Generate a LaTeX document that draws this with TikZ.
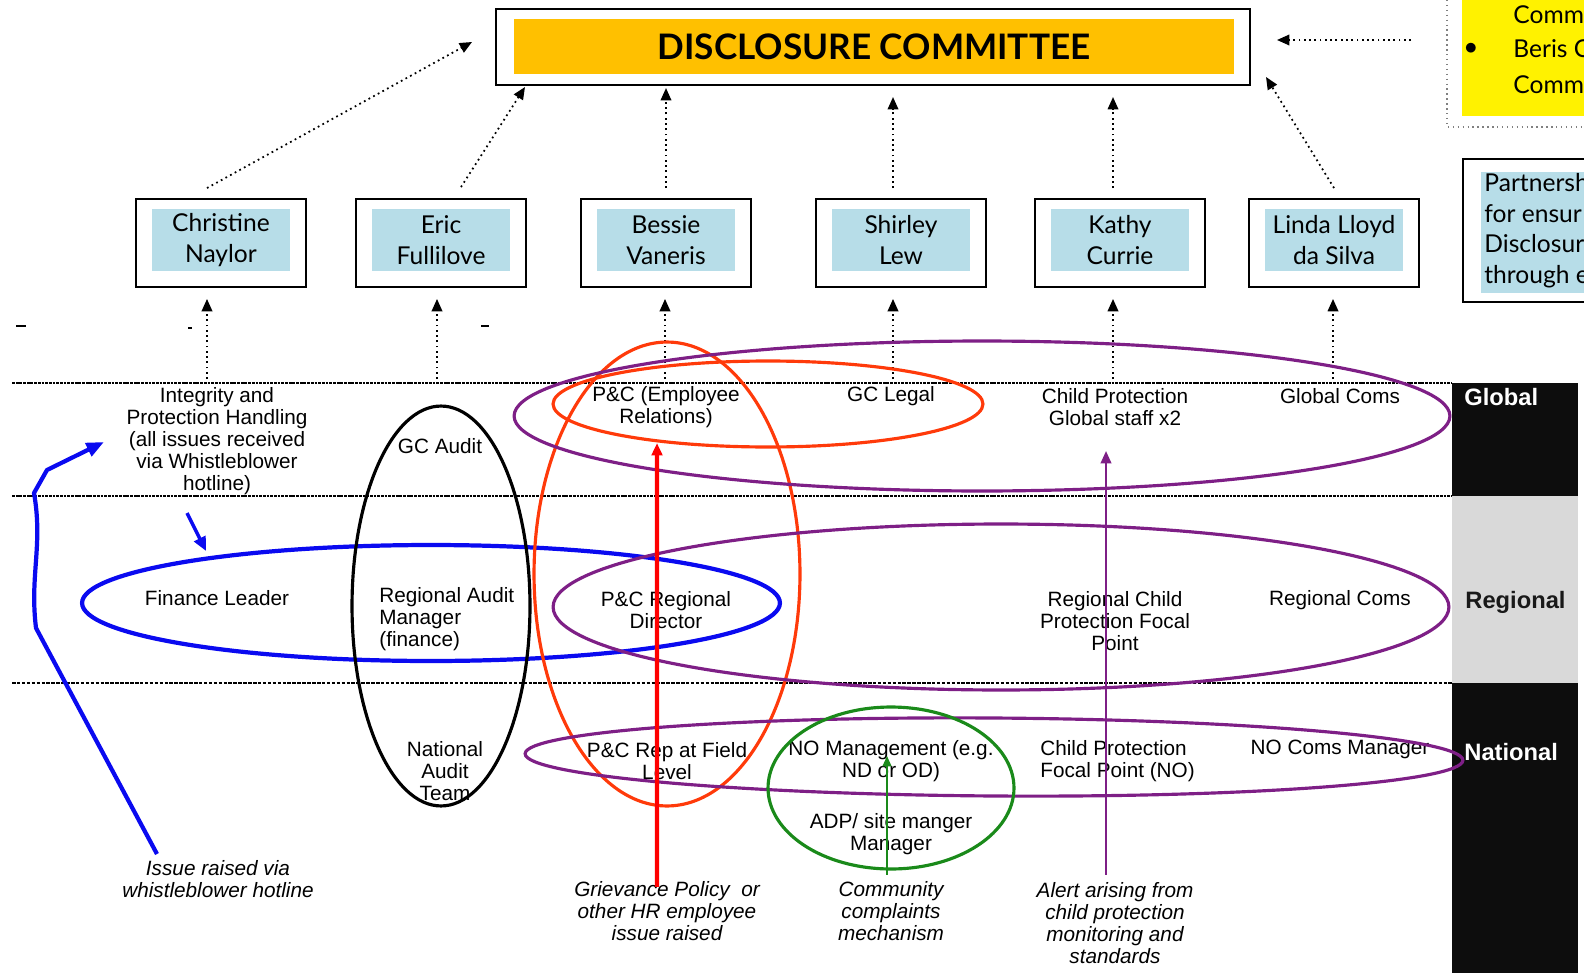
\documentclass[tikz,border=0pt]{standalone}
\usepackage{fontspec}
\setmainfont{Liberation Sans}
\newfontfamily\gillfont{Lato}
\usetikzlibrary{arrows.meta}

\definecolor{committeeorange}{HTML}{FFC000}
\definecolor{paleblue}{HTML}{B7DDE8}
\definecolor{hotlineblue}{HTML}{0A0AF0}
\definecolor{hrred}{HTML}{FF3A0A}
\definecolor{levelpurple}{HTML}{7E1F86}
\definecolor{cmgreen}{HTML}{1A8A1A}
\definecolor{bandgray}{HTML}{D9D9D9}

\newcommand\namefont{\gillfont\fontsize{14}{17.8}\selectfont}
\newcommand\rowfont{\fontsize{11.8}{12.6}\selectfont}
\newcommand\cuefont{\itshape\fontsize{11.8}{12.6}\selectfont}

\begin{document}
\begin{tikzpicture}[x=0.02cm, y=-0.02cm, >={Triangle[length=7pt,width=6pt]},
  every node/.style={inner sep=0pt},
  rowtext/.style={align=center, font=\rowfont},
  cue/.style={align=center, font=\cuefont}]
  \useasboundingbox (0,0) rectangle (1584,973);
  \clip (0,0) rectangle (1584,973);

  % committee at the top
  \node [draw, line width=1.2pt, minimum width=15.08cm, minimum height=1.52cm] (dc) at (873,47) {};
  \node [fill=committeeorange, minimum width=14.4cm, minimum height=1.1cm,
    font=\gillfont\bfseries\fontsize{20}{24}\selectfont] (dctext) at (874,46.5) {DISCLOSURE COMMITTEE};

  % boxes cut by the right edge
  \draw [gray, dotted, line width=0.8pt] (1447,-5) rectangle (1600,127);
  \fill [yellow] (1462,-5) rectangle (1600,116);
  \node [anchor=west, font=\namefont] (ycomma) at (1513,15) {Comm};
  \node [font=\namefont] (ybullet) at (1471,48.5) {$\bullet$};
  \node [anchor=west, font=\namefont] (yberis) at (1513,48.5) {Beris C};
  \node [anchor=west, font=\namefont] (ycommb) at (1513,85) {Comm};
  \draw [line width=1.2pt] (1463,159) rectangle (1600,302);
  \fill [paleblue] (1481,172) rectangle (1600,293);
  \node [anchor=north west, align=left, font=\gillfont\fontsize{14}{17.4}\selectfont] (pship) at (1484,173)
    {Partnersh\\for ensur\\Disclosur\\through e};

  % the six members
  \foreach \x/\id/\who in {221/cn/{Christine\\Naylor}, 441/ef/{Eric\\Fullilove},
      666/bv/{Bessie\\Vaneris}, 901/sl/{Shirley\\Lew}, 1120/kc/{Kathy\\Currie},
      1334/ll/{Linda Lloyd\\da Silva}} {
    \node [draw, line width=1.1pt, minimum width=3.4cm, minimum height=1.76cm] (\id) at (\x,243) {};
    \node [fill=paleblue, minimum width=2.76cm, minimum height=1.24cm, align=center, font=\namefont]
      (\id text) at (\x,240) {\who};
  }

  \coordinate (dcwest) at (472,42);
  \coordinate (dcsw) at (525,87);
  \coordinate (dcse) at (1266,77);
  \coordinate (dceast) at (1277,40);
  \coordinate (yfrom) at (1411,40);
  \draw [->, dotted, line width=1pt] ([xshift=-0.28cm, yshift=0.2cm]cn.north) -- (dcwest);
  \draw [->, dotted, line width=1pt] ([xshift=0.4cm, yshift=0.22cm]ef.north) -- (dcsw);
  \draw [->, dotted, line width=1pt] ([yshift=0.2cm]bv.north) -- ([yshift=-0.04cm]bv.north |- dc.south);
  \draw [->, dotted, line width=1pt] ([xshift=-0.16cm, yshift=0.2cm]sl.north) -- ([xshift=-0.16cm, yshift=-0.22cm]sl.north |- dc.south);
  \draw [->, dotted, line width=1pt] ([xshift=-0.14cm, yshift=0.2cm]kc.north) -- ([xshift=-0.14cm, yshift=-0.22cm]kc.north |- dc.south);
  \draw [->, dotted, line width=1pt] ([yshift=0.2cm]ll.north) -- (dcse);
  \draw [->, dotted, line width=1pt] (yfrom) -- (dceast);

  % levels
  \fill [black!95] (1452,383) rectangle (1578,496);
  \fill [bandgray] (1452,496) rectangle (1578,683);
  \fill [black!95] (1452,683) rectangle (1578,973);
  \draw [dash pattern=on 1.6pt off 0.5pt, line width=1.3pt] (12,383) -- (1452,383);
  \draw [dash pattern=on 1.6pt off 0.5pt, line width=1.3pt] (12,496) -- (1452,496);
  \draw [dash pattern=on 2pt off 0.8pt, line width=0.6pt] (12,683) -- (1452,683);
  \node [anchor=west, text=white, font=\bfseries\fontsize{13.5}{16}\selectfont] (glob) at (1464,397) {Global};
  \node [anchor=west, text=black!90, font=\bfseries\fontsize{13.5}{16}\selectfont] (regi) at (1465,602) {Regional};
  \node [anchor=west, text=white, font=\bfseries\fontsize{13.5}{16}\selectfont] (nati) at (1464,752) {National};
  \draw [line width=1pt] (16,326) -- (26,326);
  \draw [line width=1pt] (188,328) -- (192,328);
  \draw [line width=1pt] (481,326) -- (489,326);

  % global row
  \node [rowtext] (iph) at (217,441) {Integrity and\\Protection Handling\\(all issues received\\via Whistleblower\\hotline)};
  \node [rowtext] (gca) at (440,446) {GC Audit};
  \node [rowtext] (pce) at (666,407) {P\&C (Employee\\Relations)};
  \node [rowtext] (gcl) at (891,396) {GC Legal};
  \node [rowtext] (cpg) at (1115,407) {Child Protection\\Global staff x2};
  \node [rowtext] (gco) at (1340,396) {Global Coms};

  % regional row
  \node [rowtext] (fin) at (217,598) {Finance Leader};
  \node [rowtext, align=left, anchor=west] (ram) at (379,619) {Regional Audit\\Manager\\(finance)};
  \node [rowtext] (pcr) at (666,610) {P\&C Regional\\Director};
  \node [rowtext] (rcp) at (1115,621) {Regional Child\\Protection Focal\\Point};
  \node [rowtext] (rco) at (1340,600) {Regional Coms};

  % national row
  \node [rowtext] (nat) at (445,771) {National\\Audit\\Team};
  \node [rowtext] (pcf) at (667,761) {P\&C Rep at Field\\Level};
  \node [rowtext] (nom) at (891,761) {NO Management (e.g.\\ND or OD)};
  \node [rowtext] (adp) at (891,834) {ADP/ site manger\\Manager};
  \node [rowtext, align=left, anchor=west] (cpf) at (1040,761) {Child Protection\\Focal Point (NO)};
  \node [rowtext] (ncm) at (1340,749) {NO Coms Manager};

  % where issues come from
  \node [cue] (hot) at (218,879) {Issue raised via\\whistleblower hotline};
  \node [cue] (griev) at (667,911) {Grievance Policy\ \ or\\other HR employee\\issue raised};
  \node [cue] (comm) at (891,911) {Community\\complaints\\mechanism};
  \node [cue] (alert) at (1115,923) {Alert arising from\\child protection\\monitoring and\\standards};

  \foreach \x/\id in {207/cn, 437/ef, 665/bv, 893/sl, 1113/kc, 1333/ll}
    \draw [->, dotted, line width=1pt] (\x,379) -- ([yshift=-0.22cm]\id.south -| \x,0);

  % groupings
  \draw [hotlineblue, line width=2.4pt] (431,603) ellipse [x radius=6.98cm, y radius=1.16cm];
  \draw [black, line width=1.8pt] (441,606) ellipse [x radius=1.78cm, y radius=4cm];
  \draw [hrred, line width=1.8pt] (667,574) ellipse [x radius=2.66cm, y radius=4.64cm];
  \draw [hrred, line width=1.8pt] (768,404) ellipse [x radius=4.3cm, y radius=0.86cm];
  \draw [levelpurple, line width=1.8pt] (982,416) ellipse [x radius=9.36cm, y radius=1.5cm];
  \draw [levelpurple, line width=1.8pt] (1001,607) ellipse [x radius=8.96cm, y radius=1.66cm];
  \draw [levelpurple, line width=1.8pt, rotate around={-0.4:(994,757)}] (994,757) ellipse [x radius=9.38cm, y radius=0.78cm];
  \draw [cmgreen, line width=1.8pt] (891,788) ellipse [x radius=2.46cm, y radius=1.62cm];

  % routes
  \coordinate (hotstart) at (157,854);
  \coordinate (hotend) at (104,442);
  \coordinate (finfrom) at (187,513);
  \coordinate (finto) at (206,551);
  \draw [->, >={Triangle[length=10pt,width=8pt]}, hotlineblue, line width=2.4pt, line join=round]
    (hotstart) -- (36,628) to [out=97, in=-80] (34,493) -- (47,470) -- (hotend);
  \draw [->, >={Triangle[length=8pt,width=7pt]}, hotlineblue, line width=2pt] (finfrom) -- (finto);
  \draw [->, red, line width=2.4pt] ([xshift=-0.2cm, yshift=-0.12cm]griev.north) -- ([xshift=-0.18cm, yshift=-0.3cm]pce.south);
  \draw [->, >={Triangle[length=6pt,width=5pt]}, cmgreen, line width=1.2pt] ([xshift=-0.08cm, yshift=0.12cm]comm.north) -- ([xshift=-0.08cm, yshift=-0.32cm]nom.north);
  \draw [->, >={Triangle[length=7pt,width=6pt]}, levelpurple, line width=1.2pt] ([xshift=-0.18cm, yshift=0.14cm]alert.north) -- ([xshift=-0.18cm, yshift=-0.5cm]cpg.south);
\end{tikzpicture}
\end{document}
